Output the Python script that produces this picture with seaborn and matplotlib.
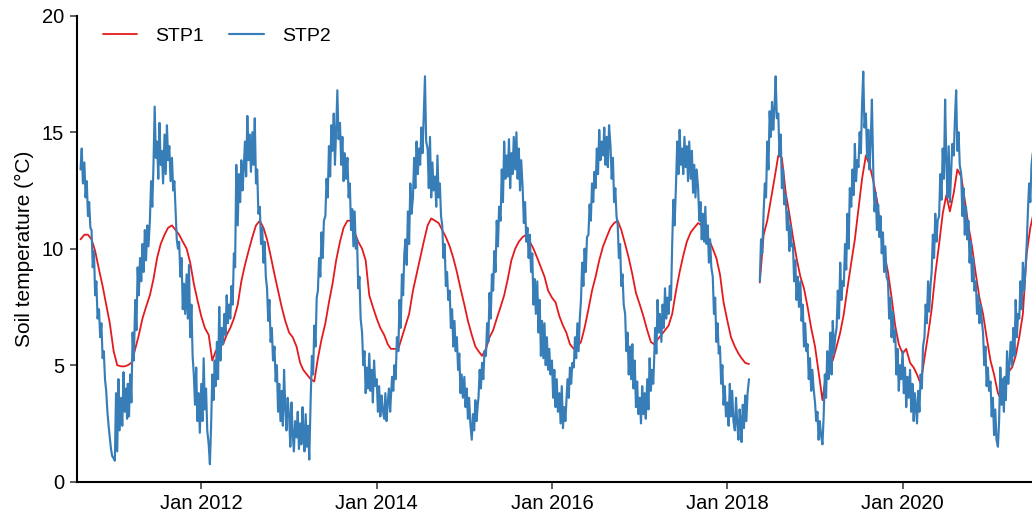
import numpy as np
import pandas as pd
import matplotlib
matplotlib.use("Agg")
import matplotlib.pyplot as plt
import matplotlib.dates as mdates
import seaborn as sns

nan = np.nan

# STP2 soil temperature (°C), one reading every 5 days (1st, 6th, 11th, 16th, 21st, 26th)
stp2_2010 = [13.4, 14.3, 12.8,                                 # from 16 Aug
             13.7, 12.2, 12.9, 11.4, 12.0, 10.9,
             10.8, 9.2, 9.9, 8.0, 8.6, 7.0,
             7.4, 6.2, 6.8, 5.3, 5.6, 4.4,
             3.9, 3.0, 2.4, 1.9, 1.4, 1.1]
stp2_2011 = [1.0, 0.9, 3.8, 1.3, 4.4, 2.2,
             3.6, 2.4, 4.7, 3.0, 4.0, 2.7,
             4.2, 2.8, 4.6, 3.4, 6.4, 5.2,
             7.8, 6.5, 9.2, 8.0, 9.6, 8.6,
             10.2, 9.0, 10.8, 9.5, 11.0, 10.1,
             11.2, 12.9, 11.8, 13.6, 16.1, 13.9,
             14.6, 13.0, 15.4, 13.6, 14.2, 12.8,
             14.9, 13.2, 15.3, 13.8, 14.4, 12.9,
             13.9, 12.5, 12.9, 11.6, 10.4, 10.0,
             10.3, 8.8, 9.6, 7.4, 8.5, 7.2,
             8.9, 7.0, 9.3, 6.2, 7.6, 5.4,
             4.6, 3.3, 4.9, 2.6, 3.8, 2.1]
stp2_2012 = [4.2, 2.6, 5.3, 3.1, 4.0, 2.2,
             1.6, 0.75, 2.4, 4.6, 3.5, 5.2,
             4.1, 6.0, 4.4, 7.5, 5.2, 6.6,
             5.9, 7.2, 6.3, 8.0, 6.8, 7.6,
             7.0, 8.4, 7.6, 9.8, 9.2, 13.6,
             11.0, 13.2, 12.0, 13.8, 12.5, 13.4,
             14.6, 13.1, 15.7, 13.8, 14.9, 13.3,
             15.0, 13.6, 15.6, 12.8, 13.4, 11.5,
             11.8, 10.2, 10.9, 9.4, 10.3, 8.8,
             8.3, 6.9, 7.8, 6.0, 6.6, 5.2,
             5.8, 4.3, 5.0, 3.0, 4.2, 2.6,
             3.9, 2.4, 4.8, 3.2, 2.2, 3.6]
stp2_2013 = [2.8, 1.5, 3.4, 2.0, 1.3, 2.6,
             1.9, 3.0, 1.4, 2.5, 1.6, 3.2,
             2.2, 1.3, 2.9, 1.5, 2.4, 0.95,
             3.6, 5.4, 4.6, 6.7, 5.8, 7.9,
             8.2, 9.6, 8.8, 10.7, 9.6, 11.2,
             11.4, 13.0, 12.2, 14.4, 13.1, 15.3,
             14.2, 15.8, 13.6, 15.1, 16.8, 14.7,
             15.4, 13.6, 14.8, 12.9, 14.1, 13.0,
             13.9, 12.2, 12.8, 10.8, 11.7, 10.1,
             11.6, 10.0, 10.4, 8.3, 8.8, 7.0,
             6.4, 5.0, 5.6, 3.8, 4.9, 4.0,
             5.5, 3.9, 4.8, 3.4, 5.2, 4.1]
stp2_2014 = [4.4, 3.0, 4.1, 2.8, 3.7, 3.1,
             2.7, 3.8, 2.6, 3.4, 4.0, 3.0,
             3.6, 4.5, 3.9, 5.0, 4.4, 6.2,
             5.6, 7.8, 6.6, 8.9, 8.0, 9.8,
             10.4, 9.3, 11.6, 10.2, 12.8, 11.5,
             12.2, 13.9, 12.6, 14.6, 13.2, 14.3,
             13.6, 15.2, 14.1, 15.8, 17.4, 14.6,
             14.3, 12.6, 14.8, 12.2, 13.7, 12.5,
             13.1, 11.8, 14.0, 12.2, 12.8, 11.4,
             11.0, 9.6, 10.2, 8.4, 9.0, 7.8,
             8.2, 6.6, 7.4, 5.8, 6.9, 5.6,
             6.2, 4.8, 5.5, 3.8, 4.6, 3.6]
stp2_2015 = [4.5, 3.2, 4.0, 2.7, 3.6, 2.5,
             1.8, 2.9, 2.2, 3.5, 2.6, 3.3,
             3.6, 4.8, 4.0, 5.1, 4.4, 5.6,
             5.4, 6.8, 6.0, 8.1, 7.0, 8.9,
             8.2, 9.9, 9.0, 11.2, 10.1, 11.8,
             11.2, 13.4, 12.0, 14.6, 13.0, 14.0,
             13.1, 14.7, 12.6, 14.1, 13.2, 14.8,
             13.4, 15.0, 13.0, 14.3, 12.5, 13.8,
             12.6, 11.1, 12.0, 10.3, 10.9, 9.6,
             10.6, 9.0, 9.8, 7.6, 8.7, 7.2,
             8.6, 6.4, 7.8, 5.4, 6.9, 5.3,
             6.8, 5.0, 6.2, 4.8, 5.7, 4.6]
stp2_2016 = [5.2, 3.6, 4.8, 3.2, 4.4, 3.0,
             3.8, 2.5, 4.1, 2.3, 3.2, 2.6,
             3.4, 4.4, 3.6, 4.9, 4.2, 5.1,
             4.9, 6.2, 5.3, 6.8, 5.6, 7.0,
             7.8, 9.4, 8.4, 10.0, 9.0, 10.5,
             10.6, 11.9, 11.2, 12.8, 12.0, 13.3,
             12.6, 14.3, 13.2, 15.1, 13.8, 14.6,
             14.0, 15.2, 13.6, 14.8, 13.5, 15.3,
             14.4, 13.0, 13.9, 12.0, 12.6, 11.4,
             11.0, 9.6, 10.2, 8.4, 8.9, 7.6,
             7.2, 5.6, 6.4, 4.6, 5.8, 4.4,
             5.9, 4.0, 5.2, 3.2, 4.3, 2.9]
stp2_2017 = [3.6, 2.5, 4.1, 2.9, 3.8, 2.7,
             4.4, 3.1, 5.3, 3.9, 4.8, 4.2,
             5.0, 6.6, 5.5, 7.8, 6.4, 7.2,
             6.0, 7.6, 6.6, 8.3, 7.0, 7.9,
             7.2, 8.4, 7.8, 10.2, 12.1, 11.0,
             12.8, 14.6, 13.2, 15.1, 13.6, 14.3,
             13.2, 14.8, 13.5, 14.4, 12.9, 14.6,
             13.0, 14.2, 12.4, 13.6, 12.2, 13.4,
             12.6, 11.2, 12.0, 10.4, 11.5, 10.3,
             11.8, 10.2, 11.0, 9.4, 10.4, 9.2,
             8.8, 7.2, 7.9, 6.0, 6.8, 5.5,
             5.8, 4.2, 5.0, 3.3, 4.1, 2.8]
stp2_2018 = [3.4, 2.4, 4.2, 2.8, 3.9, 2.6,
             2.2, 3.6, 2.5, 1.8, 3.1, 2.4,
             1.7, 3.3, 2.3, 3.7, 2.6, 3.8,
             4.4, nan, nan, nan, nan, nan,      # logger offline
             nan, nan, nan, 8.6, 10.4, 9.8,
             11.6, 12.8, 12.2, 14.6, 13.4, 15.9,
             14.8, 16.3, 15.1, 16.0, 17.4, 15.6,
             15.8, 14.0, 14.9, 12.6, 13.4, 11.9,
             12.3, 10.8, 11.6, 9.9, 11.0, 10.1,
             10.2, 8.6, 9.5, 7.8, 8.8, 7.5,
             8.6, 6.9, 7.6, 5.8, 6.8, 5.6,
             5.9, 4.4, 5.3, 3.9, 4.8, 4.0]
stp2_2019 = [3.4, 2.6, 3.0, 1.8, 2.6, 2.0,
             1.6, 2.8, 4.6, 3.6, 5.6, 4.4,
             5.0, 6.4, 4.6, 6.9, 5.5, 6.2,
             6.6, 8.2, 7.0, 9.4, 7.8, 8.6,
             8.4, 10.2, 9.1, 11.5, 10.0, 12.6,
             11.8, 13.4, 12.3, 14.5, 12.9, 13.8,
             13.5, 15.0, 14.1, 16.2, 17.6, 15.2,
             15.8, 13.9, 15.1, 13.4, 14.6, 16.4,
             13.2, 11.6, 12.4, 10.8, 11.9, 10.5,
             11.4, 9.8, 10.7, 9.0, 10.1, 8.8,
             8.6, 7.0, 7.9, 6.2, 7.3, 6.0,
             6.5, 4.6, 5.7, 3.9, 5.0, 4.4]
stp2_2020 = [5.6, 3.8, 4.9, 3.2, 4.5, 3.6,
             4.8, 3.0, 4.2, 2.6, 3.8, 3.1,
             2.5, 3.9, 3.0, 4.6, 4.0, 5.8,
             6.2, 7.6, 6.8, 8.6, 7.3, 8.4,
             9.0, 10.6, 9.6, 11.5, 10.3, 11.2,
             11.4, 13.2, 12.1, 14.3, 13.0, 16.4,
             13.8, 12.2, 14.4, 12.0, 13.3, 14.5,
             14.0, 15.6, 16.8, 14.2, 15.0, 13.6,
             13.2, 11.4, 12.6, 10.6, 11.8, 10.4,
             11.2, 9.4, 10.3, 8.6, 9.6, 8.2,
             8.6, 7.2, 8.0, 6.8, 7.6, 6.9,
             6.4, 5.0, 5.8, 4.1, 4.9, 3.9]
stp2_2021 = [4.3, 2.8, 3.6, 2.0, 3.1, 1.8,
             1.5, 2.6, 4.9, 3.3, 4.4, 3.0,
             4.5, 3.5, 5.6, 4.2, 5.0, 6.0,
             5.0, 6.6, 5.4, 7.8, 6.2, 7.2,
             7.0, 8.6, 7.4, 9.4, 8.2, 9.0,
             10.2, 11.6, 12.8, 12.0, 13.6, 14.1]

# STP1 soil temperature (°C), readings on the 1st and 16th of each month
stp1_2010 = [10.4, 10.6, 10.6, 10.4, 9.9, 9.1, 8.4, 7.6, 6.8]   # from 16 Aug
stp1_2011 = [5.6, 5.0, 4.95, 4.95, 5.0, 5.1, 5.7, 6.3, 7.0, 7.5, 8.0, 8.7,
             9.6, 10.2, 10.6, 10.9, 11.0, 10.8, 10.6, 10.3, 10.0, 9.4, 8.5, 7.8]
stp1_2012 = [7.1, 6.6, 6.3, 5.2, 5.6, 5.8, 5.9, 6.3, 6.6, 7.0, 7.6, 8.6,
             9.3, 9.9, 10.5, 11.0, 11.2, 10.9, 10.4, 9.7, 8.9, 8.2, 7.5, 6.9]
stp1_2013 = [6.4, 6.2, 5.8, 5.1, 4.8, 4.6, 4.4, 4.3, 5.3, 6.1, 6.8, 7.7,
             8.5, 9.5, 10.3, 10.9, 11.2, 11.2, 10.7, 10.3, 10.0, 9.5, 8.0, 7.5]
stp1_2014 = [7.0, 6.6, 6.3, 5.9, 5.7, 5.7, 5.7, 6.2, 6.7, 7.2, 8.2, 8.9,
             9.6, 10.3, 11.0, 11.3, 11.2, 11.1, 10.8, 10.5, 10.1, 9.6, 9.0, 8.3]
stp1_2015 = [7.6, 6.9, 6.3, 5.8, 5.6, 5.4, 5.7, 6.2, 6.5, 7.0, 7.5, 8.0,
             8.7, 9.5, 10.0, 10.3, 10.5, 10.6, 10.3, 10.0, 9.6, 9.2, 8.8, 8.2]
stp1_2016 = [7.9, 7.7, 7.1, 6.7, 6.4, 5.9, 5.7, 5.8, 6.0, 6.6, 7.4, 8.2,
             8.8, 9.5, 10.1, 10.5, 10.9, 11.1, 11.2, 10.8, 10.2, 9.6, 8.9, 8.1]
stp1_2017 = [7.6, 7.1, 6.5, 6.0, 5.9, 6.1, 6.3, 6.5, 6.7, 7.2, 8.2, 9.0,
             9.7, 10.3, 10.7, 10.9, 11.1, 11.0, 10.7, 10.4, 10.0, 9.6, 8.9, 7.7]
stp1_2018 = [6.9, 6.2, 5.8, 5.5, 5.3, 5.1, 5.05, nan, nan, 8.55, 10.6, 11.2,
             12.1, 13.0, 14.0, 13.9, 12.4, 11.5, 10.5, 9.6, 8.8, 8.3, 7.5, 6.6]
stp1_2019 = [5.8, 4.7, 3.5, 4.6, 5.0, 5.2, 5.8, 6.4, 7.2, 8.3, 9.4, 10.4,
             11.7, 13.0, 14.0, 13.6, 12.9, 12.1, 10.8, 9.8, 9.0, 7.9, 6.7, 5.9]
stp1_2020 = [5.5, 5.7, 5.1, 4.9, 4.6, 4.2, 5.3, 6.3, 7.4, 8.9, 10.2, 11.5,
             12.3, 11.6, 12.4, 13.4, 13.1, 12.1, 11.0, 10.1, 8.9, 7.9, 7.2, 6.2]
stp1_2021 = [5.2, 4.6, 3.8, 3.5, 4.3, 4.7, 4.9, 5.4, 6.2, 7.2, 9.8, 10.9, 11.6]

series_names = ["STP1", "STP2"]
series_colors = ["#E41A1C", "#377EB8"]
series_widths = [1.3, 1.55]
y_ticks = [0, 5, 10, 15, 20]


def month_grid(first, last, offsets):
    months = pd.date_range(first, last, freq="MS")
    return [m + pd.Timedelta(days=d) for m in months for d in offsets]


stp2_values = (stp2_2010 + stp2_2011 + stp2_2012 + stp2_2013 + stp2_2014 + stp2_2015
               + stp2_2016 + stp2_2017 + stp2_2018 + stp2_2019 + stp2_2020 + stp2_2021)
stp2_dates = month_grid("2010-08-01", "2021-06-01", (0, 5, 10, 15, 20, 25))[3:]

stp1_values = (stp1_2010 + stp1_2011 + stp1_2012 + stp1_2013 + stp1_2014 + stp1_2015
               + stp1_2016 + stp1_2017 + stp1_2018 + stp1_2019 + stp1_2020 + stp1_2021)
stp1_dates = month_grid("2010-08-01", "2021-07-01", (0, 15))[1:-1]

assert len(stp2_values) == len(stp2_dates)
assert len(stp1_values) == len(stp1_dates)


def to_frame(name, dates, values):
    d = pd.DataFrame({"date": dates, "temp": values})
    d["segment"] = d["temp"].isna().cumsum()   # break the line across logger gaps
    d["series"] = name
    return d.dropna()


df = pd.concat([to_frame("STP1", stp1_dates, stp1_values),
                to_frame("STP2", stp2_dates, stp2_values)], ignore_index=True)

sns.set_theme(style="ticks")
plt.rcParams["font.family"] = ["Liberation Sans", "DejaVu Sans"]
plt.rcParams["text.color"] = "black"
plt.rcParams["axes.labelcolor"] = "black"

fig = plt.figure(figsize=(10.32, 5.15), dpi=100)
ax = fig.add_axes([0.0743, 0.0647, 0.9257, 0.9048])

palette = dict(zip(series_names, series_colors))
sns.lineplot(data=df, x="date", y="temp", hue="series", units="segment",
             estimator=None, hue_order=series_names, palette=palette,
             linewidth=1.3, ax=ax)

# thicker trace for the noisier STP2 logger
width_by_color = {matplotlib.colors.to_hex(c): w for c, w in zip(series_colors, series_widths)}
for line in ax.lines:
    w = width_by_color.get(matplotlib.colors.to_hex(line.get_color()))
    if w is not None:
        line.set_linewidth(w)

ax.set_xlim(pd.Timestamp("2010-07-31"), pd.Timestamp("2021-06-23"))
ax.set_ylim(0, 20)
ax.set_yticks(y_ticks)
ax.xaxis.set_major_locator(mdates.YearLocator(2))
ax.xaxis.set_major_formatter(mdates.DateFormatter("%b %Y"))

ax.set_xlabel("")
ax.set_ylabel("Soil temperature (°C)", fontsize=15)
ax.yaxis.set_label_coords(-0.045, 0.5)

for side in ("top", "right"):
    ax.spines[side].set_visible(False)
for side in ("left", "bottom"):
    ax.spines[side].set_color("black")
    ax.spines[side].set_linewidth(1.5)
ax.tick_params(axis="both", which="major", length=5, width=1.1, color="#333333",
               labelsize=14.5, labelcolor="black", pad=4)

handles, labels = ax.get_legend_handles_labels()
ax.legend(handles, labels, ncol=2, frameon=False, loc="center left",
          bbox_to_anchor=(0.0275, 0.957), borderaxespad=0, borderpad=0,
          handlelength=1.75, handletextpad=0.95, columnspacing=1.3, fontsize=14)

fig.savefig("out.png", dpi=100)
